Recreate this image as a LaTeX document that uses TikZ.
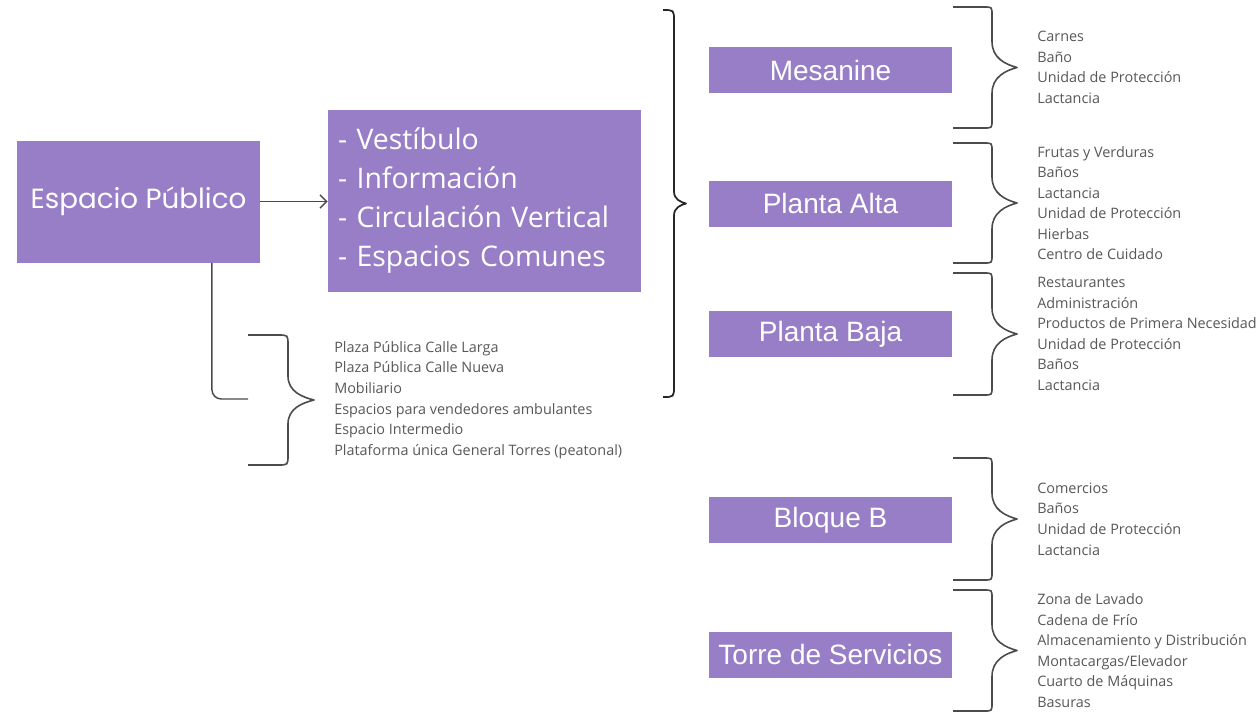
\documentclass[tikz,border=0pt]{standalone}
\usepackage{fontspec}
\setmainfont{Open Sans}
\newfontfamily\poppinsfam{Poppins}
\newfontfamily\arial{Liberation Sans}
\usepackage{xcolor}
\usetikzlibrary{arrows.meta,positioning}

\definecolor{lila}{RGB}{152,126,198}
\definecolor{texto}{RGB}{88,88,88}
\definecolor{trazo}{RGB}{75,75,75}

% [style] name, x left, y top, y bottom, x vertical, x tip, corner, tip length
\newcommand{\llave}[9][]{%
  \pgfmathsetmacro{\ymid}{(#4+#5)/2}
  \draw[llavetrazo, #1] (#3,#4) -- (#6-#8,#4) .. controls (#6,#4) .. (#6,#4+#8)
    -- (#6,\ymid-#9) .. controls (#6,\ymid-0.35*#9) and (#7-0.45*#7+0.45*#6,\ymid-0.12*#9) .. (#7,\ymid)
    coordinate (#2)
    .. controls (#7-0.45*#7+0.45*#6,\ymid+0.12*#9) and (#6,\ymid+0.35*#9) .. (#6,\ymid+#9)
    -- (#6,#5-#8) .. controls (#6,#5) .. (#6-#8,#5) -- (#3,#5);
}

\begin{document}
\begin{tikzpicture}[
    x=0.75pt, y=-0.75pt,
    caja/.style={rectangle, fill=lila, text=white, inner sep=0pt, align=center},
    piso/.style={caja, minimum width=182.25pt, minimum height=34.5pt, font=\arial\fontsize{21}{25}\selectfont},
    lista/.style={inner sep=0pt, align=left, text=texto, font=\fontsize{10.8}{15.4}\selectfont},
    linea/.style={draw=trazo, line width=1.1pt},
    llavetrazo/.style={draw=trazo, line width=1.2pt, line join=round},
    flecha/.style={linea, -{Straight Barb[length=5pt,width=10pt]}}
]
\useasboundingbox (0,0) rectangle (1259,714);
\fill[white] (0,0) rectangle (1259,714);

% main boxes
\node[caja, minimum width=182.25pt, minimum height=91.5pt, font=\poppinsfam\fontsize{20.8}{25}\selectfont] (esp) at (138.5,201.5) {Espacio Público};
\node[caja, minimum height=136.5pt, text width=219.75pt, inner xsep=7.5pt, align=left, font=\fontsize{21.3}{29.25}\selectfont] (vest) at (484.5,201)
  {- Vestíbulo\\- Información\\- Circulación Vertical\\- Espacios Comunes};

% floors
\node[piso] (mes) at (830.5,70) {Mesanine};
\node[piso] (alta) at (830.5,203.5) {Planta Alta};
\node[piso] (baja) at (830.5,334) {Planta Baja};
\node[piso] (bloq) at (830.5,520) {Bloque B};
\node[piso] (torre) at (830.5,654.5) {Torre de Servicios};

% braces
\llave[draw=black!85, line width=1.3pt]{bigtip}{663}{10}{397}{674}{686}{11}{12}
\llave{plazatip}{248}{335}{465}{288}{314}{10}{24}
\llave{mestip}{953}{7}{128}{992}{1017}{8}{26}
\llave{altatip}{953}{143}{263}{992}{1017}{8}{26}
\llave{bajatip}{953}{273}{395}{992}{1017}{8}{26}
\llave{bloqtip}{953}{458}{580}{992}{1017}{8}{26}
\llave{torretip}{953}{590}{711}{992}{1017}{8}{26}

% lists
\node[lista, right=15pt of plazatip] (plazas) {Plaza Pública Calle Larga\\Plaza Pública Calle Nueva\\Mobiliario\\Espacios para vendedores ambulantes\\Espacio Intermedio\\Plataforma única General Torres (peatonal)};
\node[lista, right=15pt of mestip] (meslist) {Carnes\\Baño\\Unidad de Protección\\Lactancia};
\node[lista, right=15pt of altatip] (altalist) {Frutas y Verduras\\Baños\\Lactancia\\Unidad de Protección\\Hierbas\\Centro de Cuidado};
\node[lista, right=15pt of bajatip] (bajalist) {Restaurantes\\Administración\\Productos de Primera Necesidad\\Unidad de Protección\\Baños\\Lactancia};
\node[lista, right=15pt of bloqtip] (bloqlist) {Comercios\\Baños\\Unidad de Protección\\Lactancia};
\node[lista, right=15pt of torretip] (torrelist) {Zona de Lavado\\Cadena de Frío\\Almacenamiento y Distribución\\Montacargas/Elevador\\Cuarto de Máquinas\\Basuras};

% connectors
\coordinate (plazain) at (248,399);
\draw[flecha] (esp.east) -- (esp.east -| vest.west);
\draw[linea, rounded corners=7pt] ([xshift=55.1pt]esp.south) |- (plazain);
\end{tikzpicture}
\end{document}
